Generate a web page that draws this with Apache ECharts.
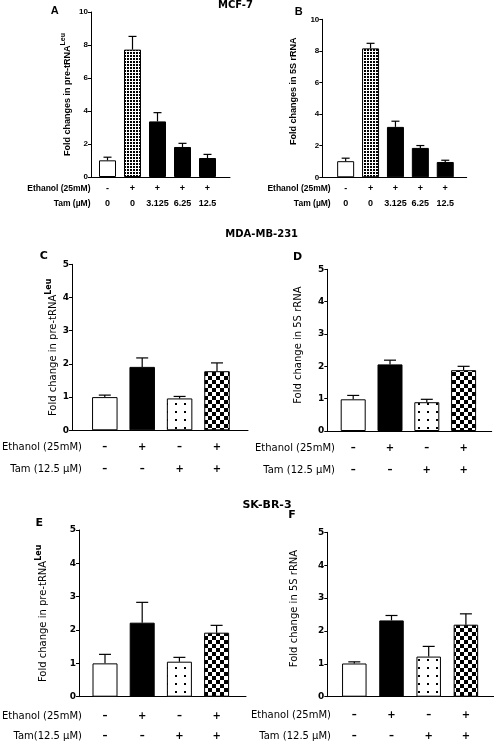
<!DOCTYPE html>
<html><head><meta charset="utf-8">
<script src="https://cdn.jsdelivr.net/npm/echarts@6/dist/echarts.min.js"></script>
<style>html,body{margin:0;padding:0;background:#fff}#c{width:494px;height:743px}</style>
</head><body><div id="c"></div>
<script>
// ---------------- data ----------------
const mcfEthanol = ['-', '+', '+', '+', '+'];
const mcfTam = ['0', '0', '3.125', '6.25', '12.5'];
const combEthanol = ['–', '+', '–', '+'];
const combTam = ['–', '–', '+', '+'];

const aMean = [1.01, 7.72, 3.37, 1.82, 1.15];
const aErr  = [0.19, 0.80, 0.53, 0.22, 0.22];
const bMean = [1.02, 8.16, 3.19, 1.86, 0.97];
const bErr  = [0.19, 0.32, 0.36, 0.15, 0.11];
const cMean = [1.00, 1.91, 0.96, 1.78];
const cErr  = [0.06, 0.27, 0.06, 0.25];
const dMean = [0.98, 2.06, 0.89, 1.88];
const dErr  = [0.12, 0.13, 0.09, 0.12];
const eMean = [1.00, 2.22, 1.05, 1.92];
const eErr  = [0.27, 0.61, 0.13, 0.22];
const fMean = [1.01, 2.32, 1.22, 2.19];
const fErr  = [0.05, 0.15, 0.31, 0.33];

const titles = ['MCF-7', 'MDA-MB-231', 'SK-BR-3'];
const panelLetters = ['A', 'B', 'C', 'D', 'E', 'F'];
const rowLabelsMcf = ['Ethanol (25mM)', 'Tam (µM)'];
const rowLabelsComb = ['Ethanol (25mM)', 'Tam (12.5 µM)'];
const rowLabelsCombE = ['Ethanol (25mM)', 'Tam(12.5 µM)'];
const yNameTrna = 'Fold changes in pre-tRNA';
const yName5s = 'Fold changes in 5S rRNA';
const yNameTrna2 = 'Fold change in pre-tRNA';
const yName5s2 = 'Fold change in 5S rRNA';
const supLeu = 'Leu';

// ---------------- patterns ----------------
function makePattern(kind) {
  const c = document.createElement('canvas');
  let w = 3, h = 3;
  if (kind === 'sparse') { w = 9; h = 8; }
  if (kind === 'checker') { w = 8; h = 8; }
  c.width = w; c.height = h;
  const g = c.getContext('2d');
  g.fillStyle = '#fff'; g.fillRect(0, 0, w, h);
  g.fillStyle = '#000';
  if (kind === 'dense') g.fillRect(1, 1, 2, 2);
  if (kind === 'sparse') g.fillRect(4, 3, 2, 2);
  if (kind === 'checker') { g.fillRect(0, 0, 4, 4); g.fillRect(4, 4, 4, 4); }
  return { image: c, repeat: 'repeat' };
}
const dense = makePattern('dense');
const sparse = makePattern('sparse');
const checker = makePattern('checker');
const mcfFills = ['#fff', dense, '#000', '#000', '#000'];
const combFills = ['#fff', '#000', sparse, checker];

const AB = "'Liberation Sans', Arial, sans-serif";
const CF = "'DejaVu Sans', sans-serif";

// ---------------- panel layout ----------------
const panels = [
  { mean: aMean, err: aErr, eth: mcfEthanol, tam: mcfTam, fills: mcfFills, yMax: 10, yInt: 2,
    yName: yNameTrna, sup: supLeu, rows: rowLabelsMcf, font: AB, ab: true,
    L: { ax: 91, end: 230, top: 12, bot: 177, barL: 95, span: 125, barW: 17, cap: 4,
         ethY: 188.7, tamY: 204, rowR: 90.5, nameGap: 15, namePad: 0, supLH: 6, letter: [54.7, 11.2] } },
  { mean: bMean, err: bErr, eth: mcfEthanol, tam: mcfTam, fills: mcfFills, yMax: 10, yInt: 2,
    yName: yName5s, sup: '', rows: rowLabelsMcf, font: AB, ab: true,
    L: { ax: 322.3, end: 466.7, top: 19.3, bot: 177.3, barL: 333.2, span: 124.5, barW: 17, cap: 4,
         ethY: 188.7, tamY: 204, rowR: 330.7, nameGap: 21, namePad: 14, supLH: 6, letter: [298.8, 11.5] } },
  { mean: cMean, err: cErr, eth: combEthanol, tam: combTam, fills: combFills, yMax: 5, yInt: 1,
    yName: yNameTrna2, sup: supLeu, rows: rowLabelsComb, font: CF, ab: false,
    L: { ax: 72, end: 248, top: 264.3, bot: 430.3, barL: 86.1, span: 149.6, barW: 25.5, cap: 6,
         ethY: 447.7, tamY: 469.3, rowR: 82, nameGap: 11, namePad: 0, supLH: 11, letter: [43.8, 256.3] } },
  { mean: dMean, err: dErr, eth: combEthanol, tam: combTam, fills: combFills, yMax: 5, yInt: 1,
    yName: yName5s2, sup: '', rows: rowLabelsComb, font: CF, ab: false,
    L: { ax: 327.3, end: 491.7, top: 269.3, bot: 431, barL: 334.8, span: 147.2, barW: 25, cap: 6,
         ethY: 448.3, tamY: 470, rowR: 335, nameGap: 21, namePad: 10, supLH: 11, letter: [297.5, 257.3] } },
  { mean: eMean, err: eErr, eth: combEthanol, tam: combTam, fills: combFills, yMax: 5, yInt: 1,
    yName: yNameTrna2, sup: supLeu, rows: rowLabelsCombE, font: CF, ab: false,
    L: { ax: 79, end: 246, top: 530, bot: 696.7, barL: 86.4, span: 148.8, barW: 25, cap: 6,
         ethY: 716, tamY: 736.7, rowR: 82, nameGap: 28, namePad: 0, supLH: 11, letter: [39.3, 523] } },
  { mean: fMean, err: fErr, eth: combEthanol, tam: combTam, fills: combFills, yMax: 5, yInt: 1,
    yName: yName5s2, sup: '', rows: rowLabelsComb, font: CF, ab: false,
    L: { ax: 327.3, end: 494, top: 532.3, bot: 696.7, barL: 335.7, span: 148.8, barW: 24.5, cap: 6,
         ethY: 715.7, tamY: 736.7, rowR: 331, nameGap: 25, namePad: 12, supLH: 11, letter: [292, 515] } }
];

const grid = [], xAxis = [], yAxis = [], series = [], graphic = [];

panels.forEach((p, k) => {
  const L = p.L;
  const h = L.bot - L.top;
  const tickFs = p.ab ? 8 : 9;
  const signFs = p.ab ? 9 : 10;
  const nameFs = p.ab ? 9 : 10;
  const nameW = p.ab ? 'bold' : 'normal';
  grid.push({ left: L.ax, top: L.top, width: L.end - L.ax, height: h });      // frame grid 2k
  grid.push({ left: L.barL, top: L.top, width: L.span, height: h });          // bar grid 2k+1

  // frame axes
  xAxis.push({ type: 'value', gridIndex: 2 * k, min: 0, max: 1,
    axisLine: { show: true, onZero: false, lineStyle: { color: '#000', width: 1 } },
    axisTick: { show: false }, axisLabel: { show: false }, splitLine: { show: false } });
  const nm = p.sup ? `{m|${p.yName}}{s|${p.sup}}` : `{m|${p.yName}}`;
  yAxis.push({ type: 'value', gridIndex: 2 * k, min: 0, max: p.yMax, interval: p.yInt,
    axisLine: { show: true, lineStyle: { color: '#000', width: 1 } },
    axisTick: { show: true, length: 3, lineStyle: { color: '#000' } },
    axisLabel: { color: '#000', fontSize: tickFs, fontWeight: 'bold', fontFamily: p.font, margin: 3 },
    splitLine: { show: false },
    name: nm, nameLocation: 'middle', nameRotate: 90, nameGap: L.nameGap,
    nameTextStyle: { color: '#000', padding: [0, 0, 0, L.namePad],
      rich: {
        m: { fontSize: nameFs, fontWeight: nameW, fontFamily: p.font, color: '#000', lineHeight: 16 },
        s: { fontSize: nameFs - 2, fontWeight: 'bold', fontFamily: p.font, color: '#000', lineHeight: L.supLH, verticalAlign: 'top' }
      } } });

  // bar grid axes
  const ethIdx = xAxis.length;
  xAxis.push({ type: 'category', gridIndex: 2 * k + 1, data: p.eth, position: 'bottom',
    axisLine: { show: false }, axisTick: { show: false },
    axisLabel: { color: '#000', fontSize: signFs, fontWeight: 'bold', fontFamily: p.font,
      margin: L.ethY - L.bot, verticalAlign: 'middle', interval: 0 } });
  xAxis.push({ type: 'category', gridIndex: 2 * k + 1, data: p.tam, position: 'bottom',
    axisLine: { show: false }, axisTick: { show: false },
    axisLabel: { color: '#000', fontSize: signFs, fontWeight: 'bold', fontFamily: p.font,
      margin: L.tamY - L.bot, verticalAlign: 'middle', interval: 0 } });
  const yIdx = yAxis.length;
  yAxis.push({ type: 'value', gridIndex: 2 * k + 1, min: 0, max: p.yMax, show: false });

  series.push({ type: 'bar', xAxisIndex: ethIdx, yAxisIndex: yIdx, barWidth: L.barW,
    data: p.mean.map((v, i) => ({ value: v, itemStyle: { color: p.fills[i] } })),
    itemStyle: { borderColor: '#000', borderWidth: 1 }, z: 2 });
  series.push({ type: 'custom', xAxisIndex: ethIdx, yAxisIndex: yIdx, z: 3,
    data: p.mean.map((v, i) => [i, v, p.err[i]]),
    encode: { x: 0, y: 1 },
    renderItem: (params, api) => {
      const i = api.value(0), v = api.value(1), e = api.value(2);
      const p0 = api.coord([i, v]), p1 = api.coord([i, v + e]);
      return { type: 'group', children: [
        { type: 'line', shape: { x1: p0[0], y1: p0[1], x2: p1[0], y2: p1[1] }, style: { stroke: '#000', lineWidth: 1.2 } },
        { type: 'line', shape: { x1: p1[0] - L.cap, y1: p1[1], x2: p1[0] + L.cap, y2: p1[1] }, style: { stroke: '#000', lineWidth: 1.2 } }
      ] };
    } });

  // row titles & panel letter
  graphic.push({ type: 'text', x: L.rowR, y: L.ethY, style: { text: p.rows[0], align: 'right', verticalAlign: 'middle',
    font: `${p.ab ? 'bold ' : ''}${p.ab ? 8.5 : 10}px ${p.font}`, fill: '#000' } });
  graphic.push({ type: 'text', x: L.rowR, y: L.tamY, style: { text: p.rows[1], align: 'right', verticalAlign: 'middle',
    font: `${p.ab ? 'bold ' : ''}${p.ab ? 8.5 : 10}px ${p.font}`, fill: '#000' } });
  graphic.push({ type: 'text', x: L.letter[0], y: L.letter[1], style: { text: panelLetters[k], align: 'center', verticalAlign: 'middle',
    font: `bold 11px ${p.ab ? AB : CF}`, fill: '#000' } });
});

const titlePos = [[235.5, 5.5, 10], [261.7, 234, 10], [267, 505, 11]];
titles.forEach((t, i) => {
  graphic.push({ type: 'text', x: titlePos[i][0], y: titlePos[i][1], style: { text: t, align: 'center', verticalAlign: 'middle',
    font: `bold ${titlePos[i][2]}px ${CF}`, fill: '#000' } });
});

const chart = echarts.init(document.getElementById('c'), null, { renderer: 'canvas' });
chart.setOption({ animation: false, backgroundColor: '#fff', grid, xAxis, yAxis, series, graphic });
</script></body></html>
